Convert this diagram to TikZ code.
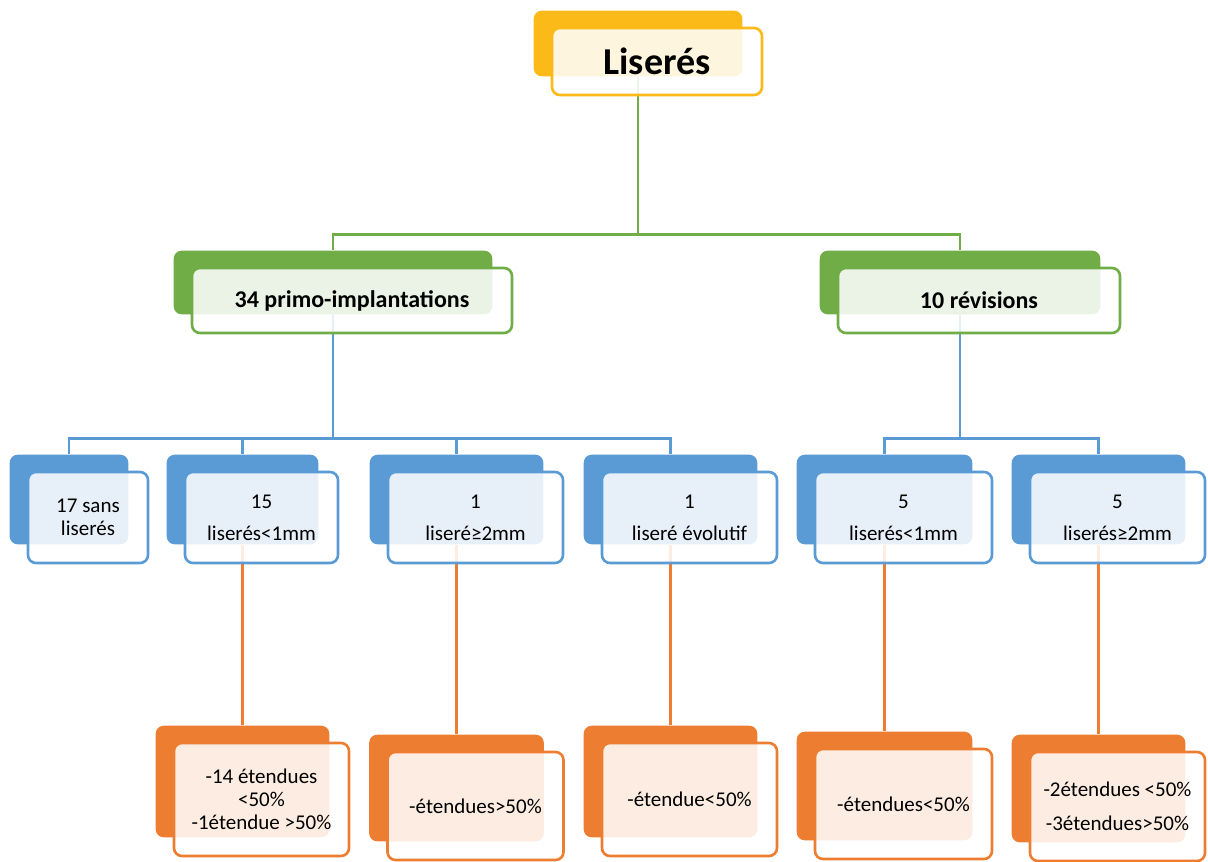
\documentclass[tikz,border=0pt]{standalone}
\usepackage{fontspec}
\setmainfont{Carlito}
\usetikzlibrary{fit,calc,backgrounds}

\definecolor{lsgold}{RGB}{252,186,25}
\definecolor{lsgreen}{RGB}{112,173,71}
\definecolor{lsblue}{RGB}{91,155,213}
\definecolor{lsorange}{RGB}{237,125,49}

\begin{document}
\begin{tikzpicture}[
    x=0.5pt, y=-0.5pt,
    every node/.style={font=\fontsize{10.5}{11.5}\selectfont},
    front/.style={draw=#1, line width=1.3pt, rounded corners=4pt, fill=white,
                  fill opacity=0.86, text opacity=1, align=center, inner sep=2pt},
    back/.style={fill=#1, rounded corners=4pt, inner sep=0pt},
    link/.style={draw=#1, line width=1.25pt},
    bluebox/.style={front=lsblue, minimum height=45.5pt},
]
\useasboundingbox (0,0) rectangle (1208,861);
% === Level 0 ===
\node[front=lsgold, minimum width=105pt, minimum height=33.5pt,
      font=\fontsize{19}{22}\selectfont\bfseries] (top) at (657,61.5) {Liserés};
% === Level 1 ===
\node[front=lsgreen, minimum width=160pt, minimum height=32.5pt,
      font=\fontsize{12}{14}\selectfont\bfseries] (prim) at (352,300.5) {34 primo-implantations};
\node[front=lsgreen, minimum width=141pt, minimum height=32.5pt,
      font=\fontsize{12}{14}\selectfont\bfseries] (rev) at (979,300.5) {10 révisions};
% === Level 2 ===
\node[bluebox, minimum width=60pt] (b1) at (88,517.5) {17 sans\\liserés};
\node[bluebox, minimum width=76.5pt] (b2) at (261.5,517.5) {15\\[4.5pt]liserés<1mm};
\node[bluebox, minimum width=87.5pt] (b3) at (475.5,517.5) {1\\[4.5pt]liseré≥2mm};
\node[bluebox, minimum width=87.5pt] (b4) at (689.5,517.5) {1\\[4.5pt]liseré évolutif};
\node[bluebox, minimum width=88.5pt] (b5) at (903.5,517.5) {5\\[4.5pt]liserés<1mm};
\node[bluebox, minimum width=87.5pt] (b6) at (1117.5,517.5) {5\\[4.5pt]liserés≥2mm};
% === Level 3 ===
\node[front=lsorange, minimum width=87.5pt, minimum height=56.5pt] (o1) at (261.5,799.5) {-14 étendues\\<50\%\\-1étendue >50\%};
\node[front=lsorange, minimum width=88pt, minimum height=54pt] (o2) at (475.5,806) {-étendues>50\%};
\node[front=lsorange, minimum width=87.5pt, minimum height=56.5pt] (o3) at (689.5,799.5) {-étendue<50\%};
\node[front=lsorange, minimum width=88.5pt, minimum height=55pt] (o4) at (903.5,804) {-étendues<50\%};
\node[front=lsorange, minimum width=87.5pt, minimum height=54.5pt] (o5) at (1117.5,806.5) {-2étendues <50\%\\[5.5pt]-3étendues>50\%};
% back panels and links
\begin{scope}[on background layer]
\foreach \n/\c in {top/lsgold, prim/lsgreen, rev/lsgreen,
                   b1/lsblue, b2/lsblue, b3/lsblue, b4/lsblue, b5/lsblue, b6/lsblue,
                   o1/lsorange, o2/lsorange, o3/lsorange, o4/lsorange, o5/lsorange}
  \node[back=\c, fit={($(\n.north west)+(-17,-16)$) ($(\n.south east)+(-21,-20)$)}] (\n-bk) {};
\draw[link=lsgreen] (top-bk.south) -- ++(0,158) -| (prim-bk.north);
\draw[link=lsgreen] (top-bk.south) -- ++(0,158) -| (rev-bk.north);
\foreach \c in {b1,b2,b3,b4}
  \draw[link=lsblue] (prim-bk.south) -- ++(0,124) -| (\c-bk.north);
\foreach \c in {b5,b6}
  \draw[link=lsblue] (rev-bk.south) -- ++(0,124) -| (\c-bk.north);
\foreach \a/\b in {b2/o1, b3/o2, b4/o3, b5/o4, b6/o5}
  \draw[link=lsorange] (\a-bk.south) -- (\b-bk.north);
\end{scope}
\end{tikzpicture}
\end{document}
